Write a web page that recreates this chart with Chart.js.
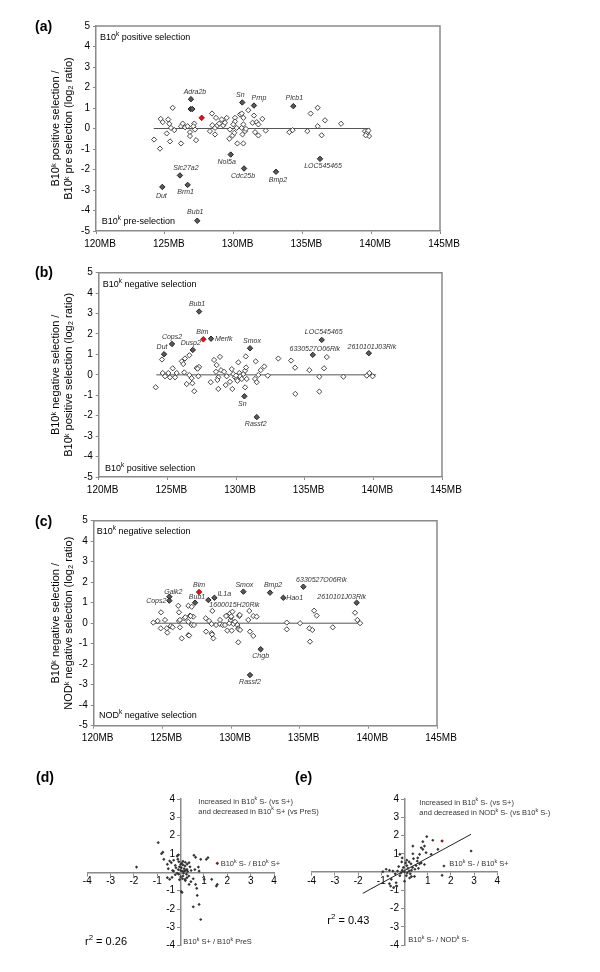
<!DOCTYPE html>
<html><head><meta charset="utf-8">
<script src="https://cdn.jsdelivr.net/npm/chart.js@4/dist/chart.umd.min.js"></script>
<style>
html,body{margin:0;padding:0;background:#fff;width:600px;height:972px;overflow:hidden;}
canvas{position:absolute;}
</style></head>
<body>
<canvas id="ca" width="600" height="260" style="left:0;top:0"></canvas>
<canvas id="cb" width="600" height="250" style="left:0;top:260px"></canvas>
<canvas id="cc" width="600" height="240" style="left:0;top:510px"></canvas>
<canvas id="cd" width="340" height="222" style="left:0;top:750px"></canvas>
<canvas id="ce" width="310" height="222" style="left:290px;top:750px"></canvas>
<script>
// ---------------- DATA ----------------
const xTicksMB = [120,125,130,135,140,145];
const yTicksLog = [-5,-4,-3,-2,-1,0,1,2,3,4,5];
const quadTicks = [-4,-3,-2,-1,0,1,2,3,4];

// Panel (a): B10k positive selection / pre-selection
const aOpenX = [125.57,124.70,124.85,125.25,125.33,125.45,125.69,125.14,125.38,124.22,124.65,126.18,126.30,126.47,126.66,126.18,126.83,126.83,127.14,127.19,127.27,127.07,128.43,128.72,128.45,128.28,128.65,128.65,128.82,128.96,129.13,129.25,129.37,129.50,129.74,129.69,129.93,130.10,130.10,129.98,130.22,130.05,130.27,130.47,130.59,130.59,130.71,130.71,130.83,130.65,130.71,131.07,130.90,131.48,131.38,131.68,131.80,132.09,131.56,131.80,132.33,134.05,134.29,135.60,136.11,136.64,135.36,136.11,136.40,137.81,139.55,139.70,139.85,139.60,139.80];
const aOpenY = [1.01,0.47,0.31,0.44,0.23,0.03,-0.08,-0.24,-0.63,-0.54,-0.98,0.11,0.24,0.06,0.11,-0.73,-0.18,-0.37,0.24,-0.05,-0.57,0.11,0.73,0.52,0.16,-0.13,0.03,-0.29,0.15,0.24,0.44,0.15,0.28,0.52,-0.05,-0.50,-0.34,0.52,0.34,0.20,0.03,-0.21,-0.73,0.68,0.73,0.03,0.52,0.20,-0.13,-0.29,-0.73,0.89,-0.02,0.63,0.28,0.31,0.20,0.47,-0.18,-0.34,-0.10,-0.18,-0.08,0.73,1.01,0.40,-0.13,0.11,-0.33,0.23,-0.13,-0.20,-0.37,-0.33,-0.10];
const aGeneNames = ['Adra2b','','','Sn','Prnp','Plcb1','Nol5a','Slc27a2','Cdc25b','Bmp2','LOC545465','Dut','Brm1','Bub1'];
const aGeneX = [126.90,126.88,127.00,130.63,131.48,134.34,129.79,126.10,130.76,133.08,136.28,124.82,126.66,127.36];
const aGeneY = [1.43,0.95,0.95,1.27,1.12,1.09,-1.27,-2.29,-1.95,-2.11,-1.48,-2.85,-2.75,-4.50];
const aRedNames = [''];
const aRedX = [127.68];
const aRedY = [0.52];
const aZeroX = [124.2,139.9];

// Panel (b): B10k negative selection / positive selection
const bOpenX = [124.15,124.61,124.66,124.83,125.07,125.19,125.39,125.56,125.68,126.05,126.16,126.28,126.60,126.23,126.41,126.60,126.77,126.82,126.96,127.14,127.31,127.20,127.26,128.40,128.83,128.59,128.54,128.71,128.64,128.71,128.16,128.91,129.13,129.32,129.25,129.56,129.73,129.69,129.80,129.92,130.05,130.17,130.24,130.29,130.42,130.53,130.66,130.73,130.71,130.78,130.66,130.00,130.10,131.43,131.38,131.51,131.62,131.80,132.06,132.31,133.08,134.01,134.30,134.32,135.34,136.07,136.07,136.41,136.61,137.82,139.52,139.71,139.95];
const bOpenY = [-0.61,0.75,0.09,-0.07,0.09,-0.12,0.32,-0.12,0.09,0.66,0.53,0.80,0.96,0.12,-0.45,-0.01,-0.16,-0.41,-0.80,0.33,0.39,0.30,-0.07,0.73,0.88,0.48,0.15,-0.12,-0.25,-0.69,-0.36,0.23,0.15,-0.07,-0.50,-0.34,-0.69,0.28,0.04,-0.12,-0.20,0.61,0.09,-0.07,-0.20,0.04,0.20,0.36,0.90,-0.20,-0.61,-0.04,-0.29,0.66,-0.20,-0.36,-0.01,0.23,0.41,-0.04,0.80,0.70,0.35,-0.93,0.23,-0.09,-0.82,0.32,0.87,-0.09,-0.04,0.09,-0.07];
const bGeneNames = ['Bub1','Cops2','Dut','Dusp2','Merfk','Smox','LOC545465','6330527O06Rik','2610101J03Rik','Sn','Rassf2'];
const bGeneX = [127.31,125.34,124.76,126.85,128.18,131.02,136.24,135.59,139.67,130.61,131.51];
const bGeneY = [3.10,1.51,1.01,1.22,1.77,1.30,1.71,0.98,1.06,-1.05,-2.07];
const bRedNames = ['Bim'];
const bRedX = [127.62];
const bRedY = [1.74];
const bZeroX = [124.2,140.2];

// Panel (c): B10k negative selection / NODk negative selection
const cOpenX = [126.16,124.90,126.21,126.89,127.14,126.60,127.01,127.25,128.64,129.69,129.93,130.10,130.58,131.33,131.62,131.87,136.05,136.24,139.03,124.34,124.66,124.88,125.19,125.32,125.36,125.61,125.75,126.21,126.28,126.28,126.41,126.67,126.89,126.89,126.95,127.06,127.14,127.30,128.16,128.18,128.40,128.59,128.59,128.62,128.71,128.91,129.20,129.20,129.40,129.56,129.64,129.73,129.88,129.98,130.00,130.02,130.05,130.17,130.29,130.46,130.53,130.56,130.61,130.64,130.53,130.66,131.26,131.38,131.62,134.06,134.06,135.03,135.70,135.92,135.75,137.41,139.20,139.40];
const cOpenY = [0.85,0.53,0.53,0.85,0.80,0.24,0.37,0.32,0.60,0.37,0.48,0.56,0.38,0.60,0.35,0.32,0.61,0.37,0.51,0.03,0.11,-0.25,0.16,-0.25,-0.46,-0.14,-0.20,0.11,0.16,-0.20,-0.74,0.29,0.07,-0.58,-0.60,0.35,-0.09,-0.09,0.24,-0.41,0.11,-0.04,-0.49,-0.55,-0.74,-0.09,-0.04,0.16,-0.09,-0.09,0.35,-0.36,0.00,0.16,0.29,0.33,-0.36,-0.04,0.07,-0.09,-0.25,-0.30,0.35,0.40,-0.93,-0.33,0.16,-0.41,-0.62,0.03,-0.30,0.00,-0.25,-0.33,-0.90,-0.20,0.16,0.00];
const cGeneNames = ['Galk2','Cops2','Bub1','1600015H20Rik','IL1a','Smox','Bmp2','Hao1','6330527O06Rik','2610101J03Rik','Chgb','Rassf2'];
const cGeneX = [125.51,125.51,127.38,128.35,128.79,130.90,132.84,133.81,135.27,139.15,132.16,131.38];
const cGeneY = [1.29,1.10,1.00,1.13,1.24,1.54,1.49,1.24,1.78,1.00,-1.27,-2.53];
const cRedNames = ['Bim'];
const cRedX = [127.67];
const cRedY = [1.52];
const cZeroX = [124.2,139.5];

// Panel (d): x = B10k S-/B10k S+, y = B10k S+/B10k PreS
const dX = [-1.89,-0.96,-0.82,-0.76,-0.72,-0.57,-0.47,-0.53,-0.40,-0.30,-0.23,-0.15,-0.10,-0.08,0.00,0.03,0.06,-0.08,0.00,0.10,0.14,0.19,0.27,0.36,0.19,0.27,-0.23,-0.37,-0.47,-0.57,-0.30,0.03,0.06,0.54,0.64,0.69,0.71,0.54,0.79,0.86,2.82,0.57,0.64,0.86,1.10,1.17,0.61,0.76,0.79,1.01,1.33,1.53,1.57,0.44,0.36,0.05,0.10,-0.05,0.15,0.20,-0.10,0.00,0.12,0.25,0.30,-0.15,0.08,0.20,-0.05,0.35,-0.20,0.40,0.45,-0.35,0.10,0.20,0.28,-0.12];
const dY = [0.29,1.62,1.02,1.10,0.71,0.44,0.62,0.20,0.53,0.66,0.38,0.89,0.95,0.58,0.44,0.25,0.07,-0.10,-0.25,-0.20,0.05,0.35,0.16,0.53,-0.38,-0.29,-0.13,-0.27,-0.38,-0.29,0.07,-1.05,-1.10,-0.35,-0.66,-0.87,-1.26,-1.88,-1.75,-2.57,-4.21,0.93,0.82,0.71,0.71,0.80,0.15,0.29,0.07,-0.38,-0.38,-0.75,-0.66,-0.51,-0.66,0.50,0.40,0.30,0.20,0.10,0.15,0.10,-0.05,-0.10,0.05,-0.05,-0.35,-0.45,-0.40,-0.20,0.25,0.30,0.10,0.10,0.60,0.55,0.45,0.72];
const dRedX = [1.57];
const dRedY = [0.49];

// Panel (e): x = B10k S-/B10k S+, y = B10k S-/NODk S-
const eX = [0.96,0.79,1.22,0.36,0.72,0.79,0.86,1.44,2.87,0.36,0.65,0.93,1.15,0.39,0.57,0.72,0.86,1.70,1.62,-0.20,-0.10,-0.79,-0.65,-0.93,-0.72,-0.57,-0.36,-0.65,-0.47,-0.60,-0.33,0.43,0.22,0.00,0.05,0.10,-0.05,0.15,0.20,-0.10,0.00,0.12,0.25,0.30,-0.15,0.08,-0.20,-0.30,0.35,-0.25,0.45,0.50,-0.40,0.10,0.20,0.28,-0.12,0.55,0.60,0.65,-0.50,0.30];
const eY = [1.94,1.66,1.74,1.42,1.33,1.24,1.42,1.24,1.15,1.00,0.97,1.06,0.97,0.73,0.77,0.50,0.41,0.33,-0.18,0.97,0.77,0.15,0.09,0.02,-0.22,-0.40,-0.59,-0.64,-0.86,-0.77,-0.77,-0.24,-0.33,-0.50,0.50,0.35,0.25,0.20,0.05,0.10,0.00,-0.05,-0.10,0.10,-0.05,-0.20,-0.20,0.05,0.25,0.30,0.15,0.35,-0.10,0.65,0.55,0.45,0.55,0.60,0.20,0.45,0.05,-0.25];
const eRedX = [1.62];
const eRedY = [1.70];
const eFitX = [-1.80,2.87];
const eFitY = [-1.17,2.07];

// ---------------- STYLE / DRAWING ----------------
const FONT = '"Liberation Sans", Arial, Helvetica, sans-serif';
Chart.defaults.font.family = FONT;
Chart.defaults.color = '#000';

function pts(xs, ys) { return xs.map((x, i) => ({x: x, y: ys[i]})); }

// rich text: parts = [[text, mode]], mode: '' | 'sup' | 'sub'
function drawRich(ctx, parts, x, y, size, align, color, style) {
  const pre = style ? style + ' ' : '';
  let total = 0;
  const widths = parts.map(p => {
    const s = p[1] ? size * 0.72 : size;
    ctx.font = pre + s + 'px ' + FONT;
    const w = ctx.measureText(p[0]).width;
    total += w;
    return w;
  });
  let cx = x;
  if (align === 'center') cx = x - total / 2;
  else if (align === 'right') cx = x - total;
  ctx.fillStyle = color || '#000';
  ctx.textAlign = 'left';
  ctx.textBaseline = 'middle';
  parts.forEach((p, i) => {
    const s = p[1] ? size * 0.72 : size;
    ctx.font = pre + s + 'px ' + FONT;
    let yy = y;
    if (p[1] === 'sup') yy = y - size * 0.38;
    if (p[1] === 'sub') yy = y + size * 0.3;
    ctx.fillText(p[0], cx, yy);
    cx += widths[i];
  });
}

const annotPlugin = {
  id: 'annot',
  afterDraw(chart, args, o) {
    const ctx = chart.ctx, a = chart.chartArea;
    ctx.save();
    if (o.frame) {
      ctx.strokeStyle = '#8a8a8a'; ctx.lineWidth = 1.5;
      ctx.beginPath(); ctx.moveTo(a.left, a.top); ctx.lineTo(a.right, a.top); ctx.lineTo(a.right, a.bottom); ctx.stroke();
    }
    (o.texts || []).forEach(t => {
      let x = t.x, y = t.y;
      if (t.rel === 'top') { x = a.left + t.x; y = a.top + t.y; }
      if (t.rel === 'bottom') { x = a.left + t.x; y = a.bottom + t.y; }
      drawRich(ctx, t.parts, x, y, t.size, t.align || 'left', t.color || '#000', t.style);
    });
    (o.labels || []).forEach(L => {
      L.names.forEach((n, i) => {
        if (!n) return;
        const st = L.styles[i];
        const px = chart.scales.x.getPixelForValue(L.xs[i]) + st[0];
        const py = chart.scales.y.getPixelForValue(L.ys[i]) + st[1];
        drawRich(ctx, [[n, '']], px, py, 7, st[2] || 'center', '#333', 'italic');
      });
    });
    ctx.restore();
  }
};

function stripChart(id, p) {
  return new Chart(document.getElementById(id), {
    type: 'scatter',
    data: { datasets: [
      { label: 'highlight', data: pts(p.redX, p.redY), pointStyle: 'rectRot', pointRadius: 2.8, backgroundColor: '#e3101b', borderColor: '#a00', borderWidth: 0.8 },
      { label: 'genes', data: pts(p.geneX, p.geneY), pointStyle: 'rectRot', pointRadius: 2.7, backgroundColor: '#5a5a5a', borderColor: '#222', borderWidth: 1 },
      { label: 'others', data: pts(p.openX, p.openY), pointStyle: 'rectRot', pointRadius: 2.6, backgroundColor: '#fff', borderColor: '#333', borderWidth: 0.9 },
      { type: 'line', label: 'zero', data: p.zeroX.map(x => ({x: x, y: 0})), borderColor: '#555', borderWidth: 1, pointRadius: 0, showLine: true }
    ]},
    options: {
      responsive: false, animation: false, events: [],
      layout: { padding: { top: p.padTop, right: p.padRight, left: 0, bottom: 0 } },
      plugins: {
        legend: { display: false }, tooltip: { enabled: false },
        annot: { frame: true, texts: p.texts, labels: p.labels }
      },
      scales: {
        x: {
          type: 'linear', min: 120, max: 145,
          afterBuildTicks: s => { s.ticks = xTicksMB.map(v => ({value: v})); },
          afterFit: s => { s.height = p.xH; },
          ticks: { callback: v => v + 'MB', font: { size: 10 }, color: '#000', padding: 4, labelOffset: 4, maxRotation: 0, autoSkip: false },
          grid: { drawOnChartArea: false, drawTicks: true, tickLength: 3, color: '#8a8a8a', lineWidth: 1 },
          border: { color: '#8a8a8a', width: 1.5 }
        },
        y: {
          type: 'linear', min: -5, max: 5,
          afterBuildTicks: s => { s.ticks = yTicksLog.map(v => ({value: v})); },
          afterFit: s => { s.width = p.yW; },
          ticks: { font: { size: 10 }, color: '#000', padding: 3, autoSkip: false },
          grid: { drawOnChartArea: false, drawTicks: true, tickLength: 3, color: '#8a8a8a', lineWidth: 1 },
          border: { color: '#8a8a8a', width: 1.5 },
          title: { display: true, text: p.title, font: { size: 11, lineHeight: 1.14 }, color: '#000', padding: { top: 49.7, bottom: 0 } }
        }
      }
    },
    plugins: [annotPlugin]
  });
}

stripChart('ca', {
  openX: aOpenX, openY: aOpenY, geneX: aGeneX, geneY: aGeneY, redX: aRedX, redY: aRedY, zeroX: aZeroX,
  padTop: 26, padRight: 160, xH: 29, yW: 96,
  title: ['B10ᵏ positive selection /', 'B10ᵏ pre selection (log₂ ratio)'],
  texts: [
    { parts: [['(a)', '']], x: 35, y: 27, size: 14, style: 'bold' },
    { rel: 'top', x: 4, y: 11.7, size: 9, parts: [['B10', ''], ['k', 'sup'], [' positive selection', '']] },
    { rel: 'bottom', x: 5.7, y: -9.7, size: 9, parts: [['B10', ''], ['k', 'sup'], [' pre-selection', '']] }
  ],
  labels: [{ names: aGeneNames, xs: aGeneX, ys: aGeneY,
    styles: [[4,-7],[0,0],[0,0],[-2,-7],[5,-7],[1,-8],[-4,8],[6,-7],[-1,8],[2,8.4],[3,7.5],[-1,9.5],[-2,7.5],[-2,-8.5]] }]
});

stripChart('cb', {
  openX: bOpenX, openY: bOpenY, geneX: bGeneX, geneY: bGeneY, redX: bRedX, redY: bRedY, zeroX: bZeroX,
  padTop: 12.7, padRight: 158, xH: 33, yW: 98.7,
  title: ['B10ᵏ negative selection /', 'B10ᵏ positive selection (log₂ ratio)'],
  texts: [
    { parts: [['(b)', '']], x: 35, y: 13, size: 14, style: 'bold' },
    { rel: 'top', x: 4, y: 12.3, size: 9, parts: [['B10', ''], ['k', 'sup'], [' negative selection', '']] },
    { rel: 'bottom', x: 6.3, y: -8.7, size: 9, parts: [['B10', ''], ['k', 'sup'], [' positive selection', '']] }
  ],
  labels: [
    { names: bGeneNames, xs: bGeneX, ys: bGeneY,
      styles: [[-2,-7.3],[0,-7.4],[-2,-7.3],[-2,-6.7],[4,0,'left'],[2,-7.3],[2,-7.4],[2,-6],[3,-6],[-2,7.7],[-1,7.4]] },
    { names: bRedNames, xs: bRedX, ys: bRedY, styles: [[-1,-7.3]] }
  ]
});

stripChart('cc', {
  openX: cOpenX, openY: cOpenY, geneX: cGeneX, geneY: cGeneY, redX: cRedX, redY: cRedY, zeroX: cZeroX,
  padTop: 10.7, padRight: 163, xH: 24.3, yW: 93.7,
  title: ['B10ᵏ negative selection /', 'NODᵏ negative selection (log₂ ratio)'],
  texts: [
    { parts: [['(c)', '']], x: 35, y: 12, size: 14, style: 'bold' },
    { rel: 'top', x: 3, y: 11, size: 9, parts: [['B10', ''], ['k', 'sup'], [' negative selection', '']] },
    { rel: 'bottom', x: 5.3, y: -9.7, size: 9, parts: [['NOD', ''], ['k', 'sup'], [' negative selection', '']] }
  ],
  labels: [
    { names: cGeneNames, xs: cGeneX, ys: cGeneY,
      styles: [[4,-5],[-3,0,'right'],[2,-6],[1,5,'left'],[3,-3.7,'left'],[1,-6.7],[3,-7.7],[3,0,'left'],[18,-6.7],[-15,-6],[0,6.7],[0,6.7]] },
    { names: cRedNames, xs: cRedX, ys: cRedY, styles: [[0,-7]] }
  ]
});

function quadChart(id, p) {
  const ds = [
    { label: 'highlight', data: pts(p.redX, p.redY), pointStyle: 'rectRot', pointRadius: 1.8, backgroundColor: '#8b1a1a', borderWidth: 0 },
    { label: 'genes', data: pts(p.xs, p.ys), pointStyle: 'rectRot', pointRadius: 1.6, backgroundColor: '#333', borderWidth: 0 }
  ];
  if (p.fitX) ds.push({ type: 'line', label: 'fit', data: pts(p.fitX, p.fitY), borderColor: '#222', borderWidth: 1, pointRadius: 0, showLine: true });
  const axis = (pos, cb) => ({
    type: 'linear', min: -4, max: 4, position: pos,
    afterBuildTicks: s => { s.ticks = quadTicks.map(v => ({value: v})); },
    ticks: { callback: cb, font: { size: 10 }, color: '#000', padding: 0, autoSkip: false, maxRotation: 0 },
    grid: { drawOnChartArea: false, drawTicks: true, tickLength: 3, color: '#8a8a8a' },
    border: { color: '#8a8a8a', width: 1.5 }
  });
  return new Chart(document.getElementById(id), {
    type: 'scatter',
    data: { datasets: ds },
    options: {
      responsive: false, animation: false, events: [],
      layout: { padding: p.pad },
      plugins: { legend: { display: false }, tooltip: { enabled: false }, annot: { frame: false, texts: p.texts } },
      scales: {
        x: axis({ y: 0 }, v => (v === 0 ? '' : String(v))),
        y: axis({ x: 0 }, v => (v === 0 ? '' : String(v) + '  '))
      }
    },
    plugins: [annotPlugin]
  });
}

quadChart('cd', {
  xs: dX, ys: dY, redX: dRedX, redY: dRedY,
  pad: { left: 87.3, right: 66, top: 49, bottom: 26.3 },
  texts: [
    { parts: [['(d)', '']], x: 36, y: 28, size: 14, style: 'bold' },
    { x: 198.3, y: 51.7, size: 7.5, color: '#333', parts: [['Increased in B10', ''], ['k', 'sup'], [' S- (vs S+)', '']] },
    { x: 198.3, y: 61.5, size: 7.5, color: '#333', parts: [['and decreased in B10', ''], ['k', 'sup'], [' S+ (vs PreS)', '']] },
    { x: 220.7, y: 114, size: 7.5, color: '#333', parts: [['B10', ''], ['k', 'sup'], [' S- / B10', ''], ['k', 'sup'], [' S+', '']] },
    { x: 183.3, y: 192.3, size: 7.5, color: '#333', parts: [['B10', ''], ['k', 'sup'], [' S+ / B10', ''], ['k', 'sup'], [' PreS', '']] },
    { x: 85, y: 191.7, size: 11, color: '#000', parts: [['r', ''], ['2', 'sup'], [' = 0.26', '']] }
  ]
});

quadChart('ce', {
  xs: eX, ys: eY, redX: eRedX, redY: eRedY, fitX: eFitX, fitY: eFitY,
  pad: { left: 21.7, right: 102.7, top: 49, bottom: 27 },
  texts: [
    { parts: [['(e)', '']], x: 5, y: 28, size: 14, style: 'bold' },
    { x: 129.3, y: 52.7, size: 7.5, color: '#333', parts: [['Increased in B10', ''], ['k', 'sup'], [' S- (vs S+)', '']] },
    { x: 129.3, y: 63.3, size: 7.5, color: '#333', parts: [['and decreased in NOD', ''], ['k', 'sup'], [' S- (vs B10', ''], ['k', 'sup'], [' S-)', '']] },
    { x: 159.3, y: 114, size: 7.5, color: '#333', parts: [['B10', ''], ['k', 'sup'], [' S- / B10', ''], ['k', 'sup'], [' S+', '']] },
    { x: 118.3, y: 190, size: 7.5, color: '#333', parts: [['B10', ''], ['k', 'sup'], [' S- / NOD', ''], ['k', 'sup'], [' S-', '']] },
    { x: 37.3, y: 170.7, size: 11, color: '#000', parts: [['r', ''], ['2', 'sup'], [' = 0.43', '']] }
  ]
});
</script>
</body></html>
